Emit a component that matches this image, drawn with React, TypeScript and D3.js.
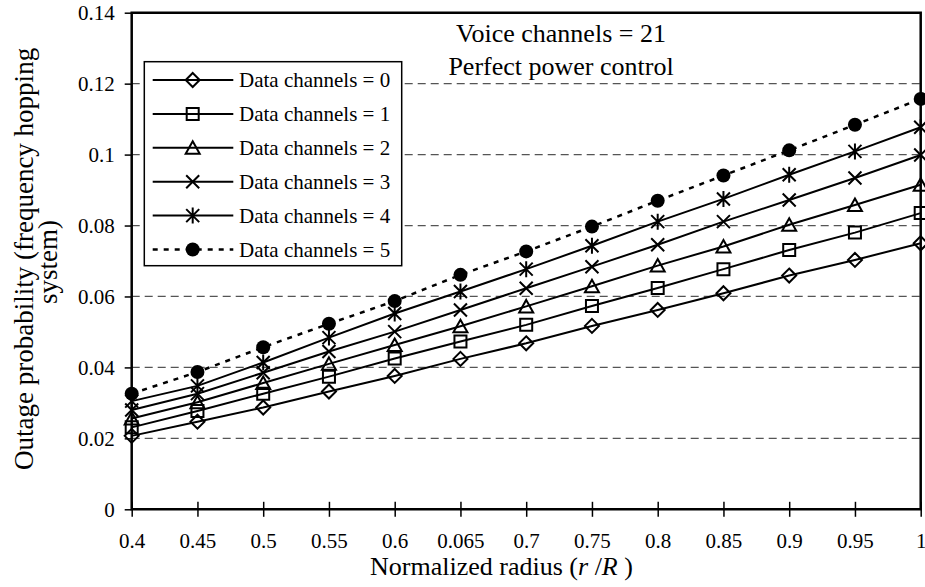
import React, { useEffect, useRef } from 'react';
import * as d3 from 'd3';

// x categories (the "0.065" label is as printed in the original figure)
const categories = ['0.4', '0.45', '0.5', '0.55', '0.6', '0.065', '0.7', '0.75', '0.8', '0.85', '0.9', '0.95', '1'];
const yTicks = [0, 0.02, 0.04, 0.06, 0.08, 0.1, 0.12, 0.14];
const gridTicks = [0.02, 0.04, 0.06, 0.08, 0.1, 0.12];

const seriesNames = [
  'Data channels = 0',
  'Data channels = 1',
  'Data channels = 2',
  'Data channels = 3',
  'Data channels = 4',
  'Data channels = 5',
];
const data0 = [0.0207, 0.0247, 0.0287, 0.0332, 0.0376, 0.0424, 0.0468, 0.0517, 0.0562, 0.0609, 0.0659, 0.0703, 0.075];
const data1 = [0.0231, 0.0277, 0.0326, 0.0374, 0.0425, 0.0473, 0.052, 0.0573, 0.0624, 0.0677, 0.0731, 0.078, 0.0835];
const data2 = [0.0256, 0.0302, 0.0356, 0.041, 0.0463, 0.0516, 0.0572, 0.0629, 0.0687, 0.0741, 0.0802, 0.0858, 0.0915];
const data3 = [0.028, 0.0326, 0.0385, 0.0445, 0.0501, 0.0562, 0.0623, 0.0684, 0.0746, 0.0811, 0.0872, 0.0934, 0.0999];
const data4 = [0.0305, 0.0348, 0.0414, 0.0484, 0.0552, 0.0614, 0.0677, 0.0743, 0.0811, 0.0875, 0.0943, 0.1009, 0.1077];
const data5 = [0.0326, 0.0387, 0.0457, 0.0523, 0.0587, 0.0661, 0.0727, 0.0797, 0.087, 0.0941, 0.1012, 0.1084, 0.1157];
const markers = ['diamond', 'square', 'triangle', 'cross', 'asterisk', 'dot'];

const FONT = "'Liberation Serif', 'Times New Roman', serif";

const drawMarker = (g: any, type: string, cx: number, cy: number) => {
  const s = g.append('path')
    .attr('fill', 'none')
    .attr('stroke', 'black')
    .attr('stroke-width', 2);
  if (type === 'diamond') {
    s.attr('d', `M${cx},${cy - 7}L${cx + 7},${cy}L${cx},${cy + 7}L${cx - 7},${cy}Z`);
  } else if (type === 'square') {
    s.attr('d', `M${cx - 6},${cy - 6}h12v12h-12Z`);
  } else if (type === 'triangle') {
    s.attr('d', `M${cx},${cy - 6.5}L${cx + 7},${cy + 6}L${cx - 7},${cy + 6}Z`);
  } else if (type === 'cross') {
    s.attr('d', `M${cx - 6.5},${cy - 6.5}L${cx + 6.5},${cy + 6.5}M${cx + 6.5},${cy - 6.5}L${cx - 6.5},${cy + 6.5}`);
  } else if (type === 'asterisk') {
    s.attr('d', `M${cx - 6.5},${cy - 6.5}L${cx + 6.5},${cy + 6.5}M${cx + 6.5},${cy - 6.5}L${cx - 6.5},${cy + 6.5}M${cx},${cy - 8}L${cx},${cy + 8}`);
  } else {
    s.remove();
    g.append('circle').attr('cx', cx).attr('cy', cy).attr('r', 7).attr('fill', 'black');
  }
};

const Chart = () => {
  const svgRef: any = useRef();

  useEffect(() => {
    const width = 925;
    const height = 587;
    const left = 131.7, right = 920.7, top = 12.7, bottom = 509.3;
    const series = [data0, data1, data2, data3, data4, data5];

    const svg = d3.select(svgRef.current)
      .attr('width', width)
      .attr('height', height)
      .style('font-family', FONT);
    svg.selectAll('*').remove();

    const x = d3.scalePoint().domain(categories).range([left, right]).padding(0);
    const y = d3.scaleLinear().domain([0, 0.14]).range([bottom, top]);

    // dashed gridlines
    svg.append('g')
      .selectAll('line')
      .data(gridTicks)
      .join('line')
      .attr('x1', left)
      .attr('x2', right)
      .attr('y1', (d) => y(d))
      .attr('y2', (d) => y(d))
      .attr('stroke', '#555')
      .attr('stroke-width', 1.3)
      .attr('stroke-dasharray', '8,5');

    // series
    const line: any = d3.line<number>()
      .x((d, i) => x(categories[i]) as number)
      .y((d) => y(d));

    series.forEach((vals, si) => {
      const g = svg.append('g');
      g.append('path')
        .datum(vals)
        .attr('d', line)
        .attr('fill', 'none')
        .attr('stroke', 'black')
        .attr('stroke-width', si === 5 ? 2.5 : 2)
        .attr('stroke-dasharray', si === 5 ? '5,6' : null);
      vals.forEach((v, i) => drawMarker(g, markers[si], x(categories[i]) as number, y(v)));
    });

    // y axis
    const yAxis = svg.append('g')
      .attr('transform', `translate(${left},0)`)
      .call(d3.axisLeft(y).tickValues(yTicks).tickSize(7).tickPadding(10)
        .tickFormat((d: any) => String(+(+d).toFixed(2))));
    yAxis.select('.domain').remove();
    yAxis.selectAll('line').attr('stroke', 'black').attr('stroke-width', 1.5);
    yAxis.selectAll('text').attr('font-size', 21).attr('font-family', FONT).attr('fill', 'black');

    // x axis
    const xAxis = svg.append('g')
      .attr('transform', `translate(0,${bottom})`)
      .call(d3.axisBottom(x).tickSize(7.5));
    xAxis.select('.domain').remove();
    xAxis.selectAll('line').attr('y1', -7.5).attr('y2', 7.5).attr('stroke', 'black').attr('stroke-width', 1.5);
    xAxis.selectAll('text')
      .attr('y', 38.7)
      .attr('dy', null)
      .attr('font-size', 21)
      .attr('font-family', FONT)
      .attr('fill', 'black');

    // plot frame
    svg.append('path')
      .attr('d', `M${left},${bottom}V${top}H${right}V${bottom}Z`)
      .attr('fill', 'none')
      .attr('stroke', 'black')
      .attr('stroke-width', 2.5);

    // annotation
    svg.append('text')
      .attr('x', 561).attr('y', 41.7)
      .attr('text-anchor', 'middle')
      .attr('font-size', 26)
      .text('Voice channels = 21');
    svg.append('text')
      .attr('x', 561).attr('y', 75)
      .attr('text-anchor', 'middle')
      .attr('font-size', 26)
      .text('Perfect power control');

    // legend
    const lg = svg.append('g');
    lg.append('rect')
      .attr('x', 144.3).attr('y', 61.7)
      .attr('width', 257.4).attr('height', 204)
      .attr('fill', 'white')
      .attr('stroke', 'black')
      .attr('stroke-width', 1.5);
    seriesNames.forEach((name, si) => {
      const cy = 80 + si * 33.9;
      lg.append('line')
        .attr('x1', 152.7).attr('x2', 233.3)
        .attr('y1', cy).attr('y2', cy)
        .attr('stroke', 'black')
        .attr('stroke-width', si === 5 ? 2.5 : 2)
        .attr('stroke-dasharray', si === 5 ? '5,6' : null);
      drawMarker(lg, markers[si], 192.7, cy);
      lg.append('text')
        .attr('x', 239).attr('y', cy + 7.3)
        .attr('font-size', 21)
        .text(name);
    });

    // x title
    const xt = svg.append('text')
      .attr('x', 501.5).attr('y', 575)
      .attr('text-anchor', 'middle')
      .attr('font-size', 26);
    xt.append('tspan').text('Normalized radius (');
    xt.append('tspan').attr('font-style', 'italic').text('r ');
    xt.append('tspan').text('/');
    xt.append('tspan').attr('font-style', 'italic').text('R ');
    xt.append('tspan').text(')');

    // y title (two lines)
    svg.append('text')
      .attr('transform', 'translate(33,470) rotate(-90)')
      .attr('text-anchor', 'start')
      .attr('font-size', 27)
      .text('Outage probability (frequency hopping');
    svg.append('text')
      .attr('transform', 'translate(57,262) rotate(-90)')
      .attr('text-anchor', 'middle')
      .attr('font-size', 27)
      .text('system)');
  }, []);

  return <svg ref={svgRef} style={{ position: 'absolute', left: 0, top: 0 }}></svg>;
};

export default function App() {
  return <Chart />;
}
